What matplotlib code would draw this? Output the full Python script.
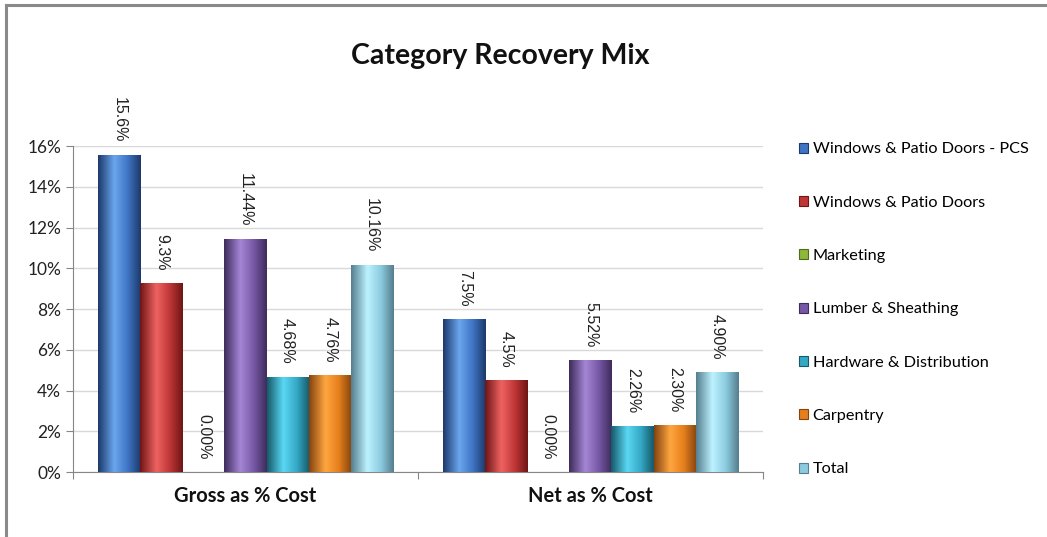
import numpy as np
import matplotlib.pyplot as plt
from matplotlib.colors import LinearSegmentedColormap
from matplotlib.patches import Patch
from matplotlib.lines import Line2D

plt.rcParams['font.family'] = ['Lato', 'DejaVu Sans']

# data
groups = ['Gross as % Cost', 'Net as % Cost']
series = ['Windows & Patio Doors - PCS', 'Windows & Patio Doors', 'Marketing',
          'Lumber & Sheathing', 'Hardware & Distribution', 'Carpentry', 'Total']
gross = [15.56, 9.28, 0.0, 11.44, 4.68, 4.76, 10.16]
net = [7.5, 4.5, 0.0, 5.52, 2.26, 2.30, 4.90]
gross_labels = ['15.6%', '9.3%', '0.00%', '11.44%', '4.68%', '4.76%', '10.16%']
net_labels = ['7.5%', '4.5%', '0.00%', '5.52%', '2.26%', '2.30%', '4.90%']

# (dark edge, mid, highlight) per series
shades = [('#1c3a6b', '#3f74c4', '#6aa6ee'),
          ('#701616', '#bf3636', '#ef6262'),
          ('#4e6e1c', '#8db83a', '#b6e060'),
          ('#3f2c5c', '#7658a6', '#a486d6'),
          ('#165a6a', '#35a8c6', '#5ad8f4'),
          ('#854510', '#e57f1c', '#ffa640'),
          ('#557f8e', '#8ccbe0', '#bdf2ff')]

fig = plt.figure(figsize=(10.47, 5.37), dpi=100)
ax = fig.add_axes([0.0697, 0.121, 0.659, 0.607])

x = np.arange(len(groups))
n = len(series)
width = 0.122
values = np.array([gross, net])
labels = [gross_labels, net_labels]

grad = np.linspace(0, 1, 64).reshape(1, -1)
for i in range(n):
    dark, mid, light = shades[i]
    cmap = LinearSegmentedColormap.from_list(
        's%d' % i, [(0, dark), (0.38, light), (0.7, mid), (1, dark)])
    offs = (i - (n - 1) / 2) * width
    bars = ax.bar(x + offs, values[:, i], width, color=mid, edgecolor='none', zorder=2)
    for j, b in enumerate(bars):
        bx, by = b.get_x(), b.get_y()
        bw, bh = b.get_width(), b.get_height()
        if bh > 0:
            im = ax.imshow(grad, cmap=cmap, aspect='auto', extent=[bx, bx + bw, by, by + bh],
                           zorder=3, interpolation='bicubic')
            im.set_clip_path(b)
        ax.annotate(labels[j][i], (bx + bw / 2, bh), xytext=(0, 9),
                    textcoords='offset points', rotation=270, ha='center', va='bottom',
                    fontsize=11.5, color='#222222', family=['Liberation Sans'])

ax.set_xlim(-0.5, 1.5)
ax.set_ylim(0, 16)
ax.set_yticks(np.arange(0, 17, 2))
ax.set_yticklabels(['%d%%' % v for v in range(0, 17, 2)], fontsize=12.5, color='#222222')
ax.yaxis.grid(True, color='#d9d9d9', linewidth=1, zorder=0)
ax.set_axisbelow(True)

ax.set_xticks([-0.5, 0.5, 1.5])
ax.set_xticklabels([])
ax.set_xticks(x, minor=True)
ax.set_xticklabels(groups, minor=True, fontsize=14.5, fontweight='bold', color='#111111')
ax.tick_params(axis='x', which='minor', length=0, pad=10)
ax.tick_params(axis='both', which='major', direction='out', length=5, color='#868686')

for s in ['top', 'right']:
    ax.spines[s].set_visible(False)
for s in ['left', 'bottom']:
    ax.spines[s].set_color('#868686')

fig.text(0.4775, 0.895, 'Category Recovery Mix', ha='center', va='center',
         fontsize=20.5, fontweight='bold', color='#111111')

handles = [Patch(facecolor=s[1], edgecolor=s[0], linewidth=0.8) for s in shades]
fig.legend(handles, series, loc='upper left', bbox_to_anchor=(0.749, 0.762),
           frameon=False, fontsize=11.7, labelspacing=2.42, handlelength=0.55,
           handleheight=0.55, handletextpad=0.3)

# chart border (top and left edges visible)
fig.add_artist(Line2D([0.0062, 0.0062], [0, 0.9907], color='#8a8a8a', linewidth=2.2,
                      transform=fig.transFigure))
fig.add_artist(Line2D([0.0062, 0.999], [0.9907, 0.9907], color='#8a8a8a', linewidth=2.2,
                      transform=fig.transFigure))

fig.savefig('out.png', dpi=100)
